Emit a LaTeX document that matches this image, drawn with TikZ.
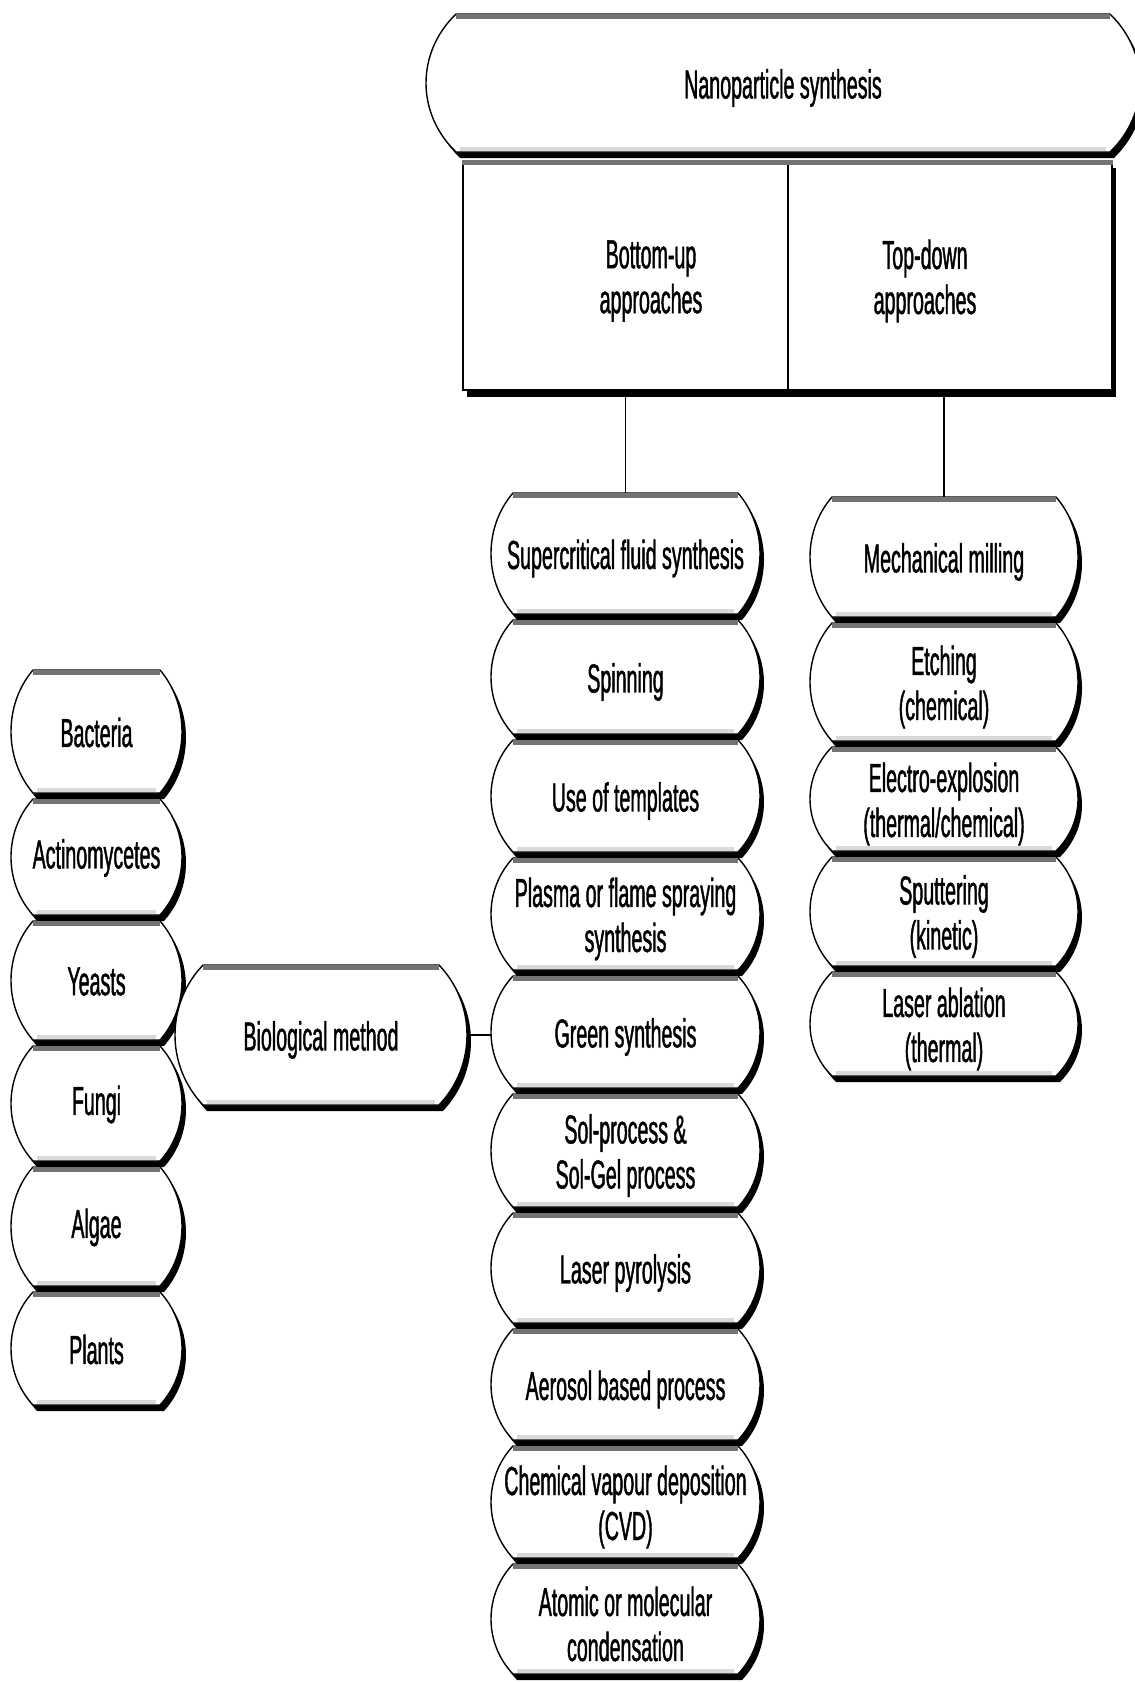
\documentclass[tikz,border=0pt]{standalone}
\usepackage{fontspec}
\setmainfont{Liberation Sans}[FakeStretch=0.485,FakeBold=1]
\tikzset{
  box/.style={fill=white, draw=black, line width=0.7pt,
    preaction={fill=black, transform canvas={shift={(2pt,-3pt)}}}},
  topline/.style={line width=2.5pt, black!55},
  botline/.style={line width=2pt, black!15},
  txt/.style={align=center, inner sep=0pt, font=\fontsize{20.25pt}{22.5pt}\selectfont},
  conn/.style={line width=0.7pt, black},
  cell/.style={rectangle, draw=black, fill=white, line width=0.7pt, inner sep=0pt,
    preaction={fill=black, transform canvas={shift={(2pt,-3.5pt)}}}}
}
\def\qtshift{-2.5pt}
\newcommand\qbarrel[7]{%
 \pgfmathsetmacro\qxa{#2}%
 \pgfmathsetmacro\qya{#3}%
 \pgfmathsetmacro\qxb{#4}%
 \pgfmathsetmacro\qyb{#5}%
 \pgfmathsetmacro\qd{#6}%
 \pgfmathsetmacro\qk{0.28*(\qyb-\qya)}%
 \pgfmathsetmacro\qc{\qd/3}%
 \pgfmathsetmacro\qL{\qxa+\qd}\pgfmathsetmacro\qR{\qxb-\qd}%
 \pgfmathsetmacro\qLc{\qxa-\qc}\pgfmathsetmacro\qRc{\qxb+\qc}%
 \pgfmathsetmacro\qT{\qya+\qk}\pgfmathsetmacro\qB{\qyb-\qk}%
 \path[box] (\qL,\qya) -- (\qR,\qya) .. controls (\qRc,\qT) and (\qRc,\qB) .. (\qR,\qyb) -- (\qL,\qyb) .. controls (\qLc,\qB) and (\qLc,\qT) .. cycle;
 \draw[topline] (\qL,\qya+2.5) -- (\qR,\qya+2.5);
 \draw[botline] (\qL+4,\qyb-3) -- (\qR-4,\qyb-3);
 \pgfmathsetmacro\qw{(\qxb-\qxa)*0.5}\pgfmathsetmacro\qh{(\qyb-\qya)*0.5}%
 \pgfmathsetmacro\qcx{(\qxa+\qxb)/2}\pgfmathsetmacro\qcy{(\qya+\qyb)/2}%
 \node[inner sep=0pt, minimum width=\qw pt, minimum height=\qh pt,
   label={[txt, yshift=\qtshift]center:{#7}}] (#1) at (\qcx,\qcy) {};
}
\begin{document}
\begin{tikzpicture}[x=0.5pt,y=-0.5pt]
\useasboundingbox (0,0) rectangle (1135,1682);
\fill[white] (0,0) rectangle (1135,1682);
% top node
\qbarrel{ns}{426}{14}{1140}{152}{30}{Nanoparticle synthesis}
% approach cells
\node[cell, minimum width=162.5pt, minimum height=114.5pt] (bu) at (625.5,275.5) {};
\node[cell, minimum width=162pt, minimum height=114.5pt] (td) at (950,275.5) {};
\draw[topline] ([yshift=-1.25pt]bu.north west) -- ([yshift=-1.25pt]td.north east);
\node[txt] (butxt) at (651,281) {Bottom-up\\approaches};
\node[txt] (tdtxt) at (925,281) {Top-down\\approaches};
% left column
\def\qtshift{-0.5pt}
\qbarrel{bac}{11}{670}{182}{793}{22}{Bacteria}
\qbarrel{act}{11}{799}{182}{915}{22}{Actinomycetes}
\qbarrel{yea}{11}{921}{182}{1040}{22}{Yeasts}
\qbarrel{fun}{11}{1046}{182}{1161}{22}{Fungi}
\qbarrel{alg}{11}{1167}{182}{1286}{22}{Algae}
\qbarrel{pla}{11}{1292}{182}{1405}{22}{Plants}
\def\qtshift{-2.5pt}
% biological method
\qbarrel{bio}{175}{965}{467}{1105}{28}{Biological method}
% bottom-up column
\qbarrel{sc}{491}{493}{760}{614}{22}{Supercritical fluid synthesis}
\qbarrel{sp}{491}{620}{760}{734}{22}{Spinning}
\qbarrel{ut}{491}{740}{760}{852}{22}{Use of templates}
\qbarrel{pf}{491}{858}{760}{970}{22}{Plasma or flame spraying\\synthesis}
\qbarrel{gs}{491}{976}{760}{1088}{22}{Green synthesis}
\qbarrel{sg}{491}{1094}{760}{1207}{22}{Sol-process \&\\Sol-Gel process}
\qbarrel{lp}{491}{1213}{760}{1323}{22}{Laser pyrolysis}
\qbarrel{ab}{491}{1329}{760}{1440}{22}{Aerosol based process}
\qbarrel{cvd}{491}{1446}{760}{1558}{22}{Chemical vapour deposition\\(CVD)}
\qbarrel{amc}{491}{1564}{760}{1674}{22}{Atomic or molecular\\condensation}
% top-down column
\qbarrel{mm}{810}{497}{1078}{617}{22}{Mechanical milling}
\qbarrel{et}{810}{623}{1078}{741}{22}{Etching\\(chemical)}
\qbarrel{ee}{810}{747}{1078}{851}{22}{Electro-explosion\\(thermal/chemical)}
\qbarrel{spu}{810}{857}{1078}{966}{22}{Sputtering\\(kinetic)}
\qbarrel{la}{810}{972}{1078}{1076}{22}{Laser ablation\\(thermal)}
% connectors
\draw[conn] ([yshift=-3pt]bu.south) -- (sc.north);
\draw[conn] ([yshift=-3pt]mm.north |- td.south) -- (mm.north);
\draw[conn] (bio.east) -- (bio.east -| gs.west);
\end{tikzpicture}
\end{document}
